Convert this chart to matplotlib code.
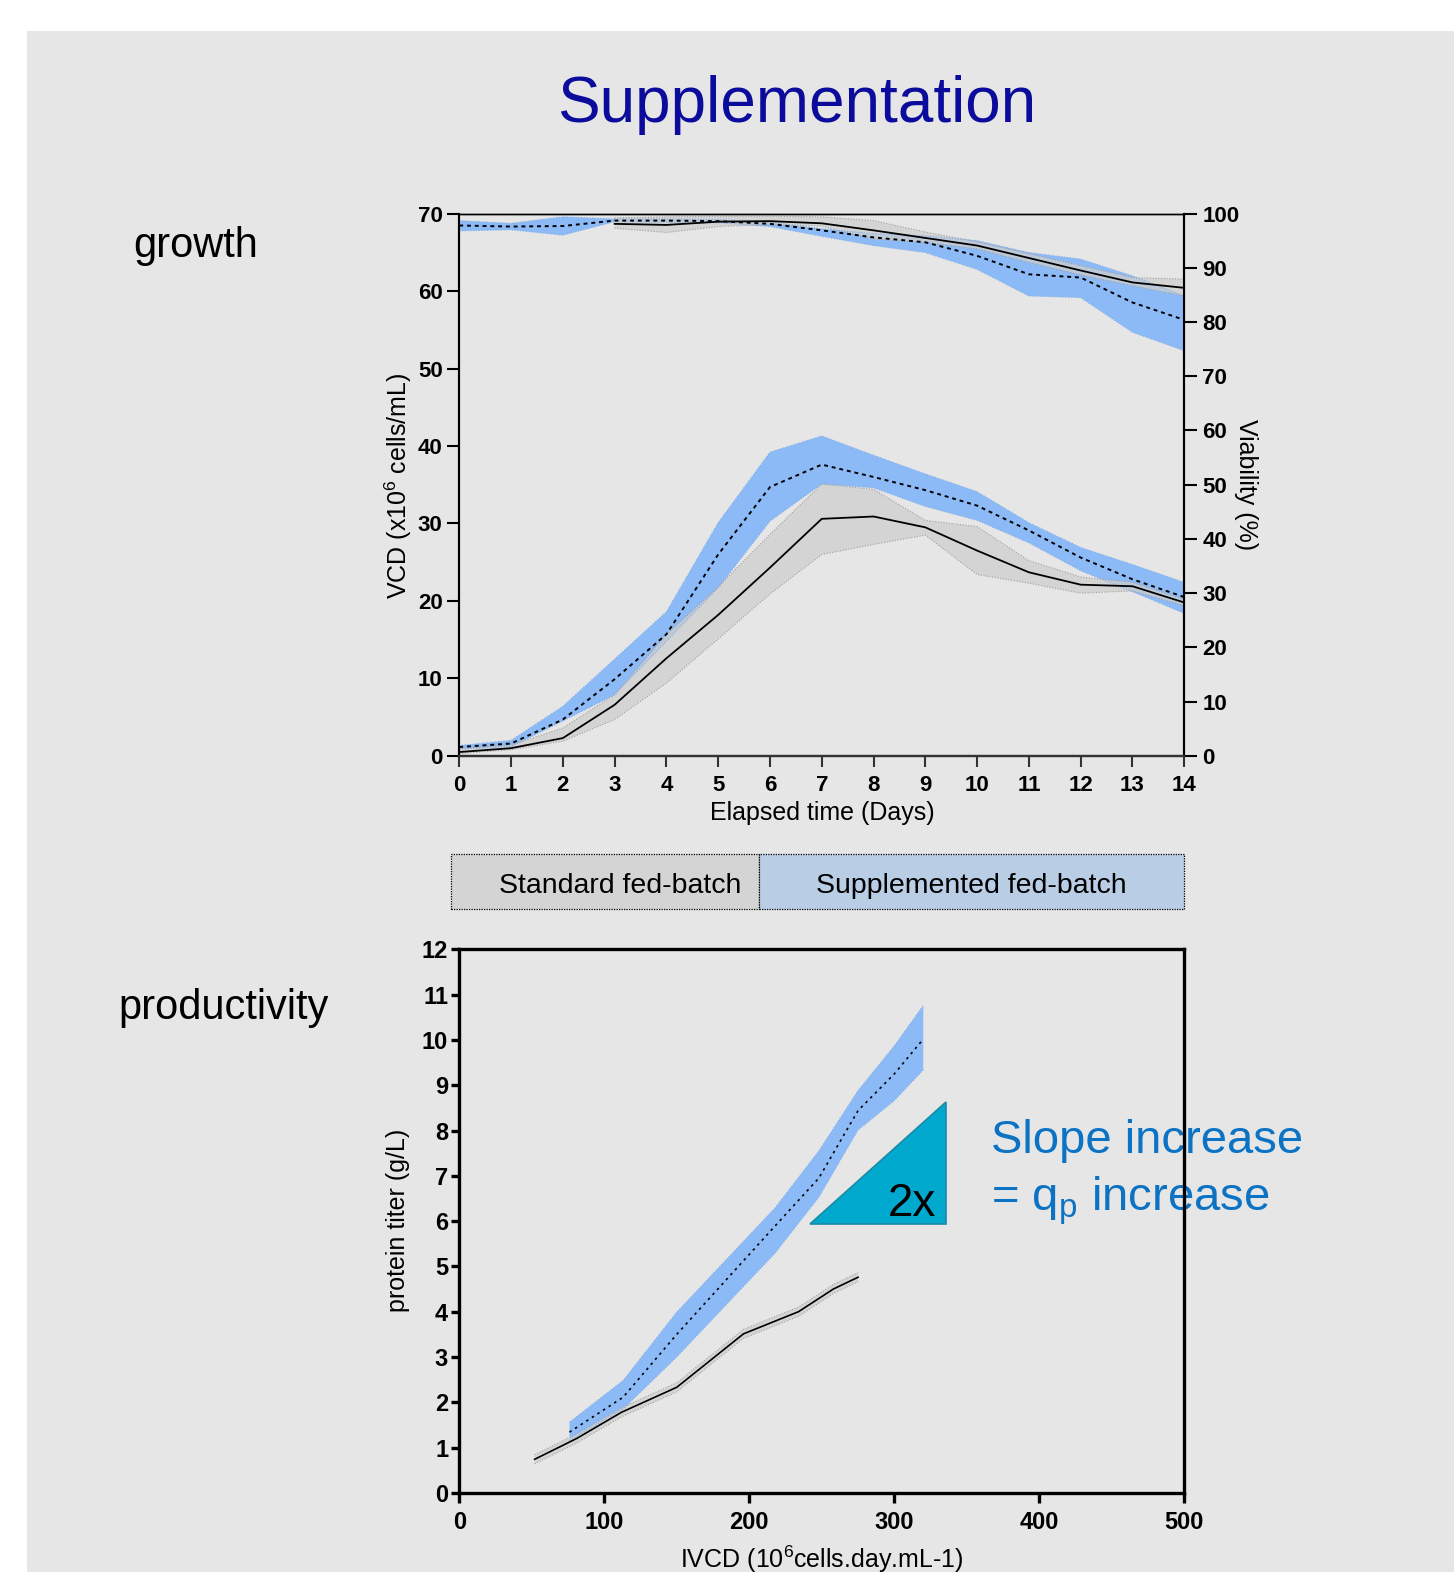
import numpy as np
import matplotlib
matplotlib.use("Agg")
import matplotlib.pyplot as plt
from matplotlib.patches import Rectangle, Polygon

plt.rcParams['font.family'] = ['Liberation Sans', 'DejaVu Sans']
plt.rcParams['mathtext.fontset'] = 'custom'
plt.rcParams['mathtext.rm'] = 'Liberation Sans'
plt.rcParams['mathtext.it'] = 'Liberation Sans'

# growth data (days 0-14)
days = [0, 1, 2, 3, 4, 5, 6, 7, 8, 9, 10, 11, 12, 13, 14]
vcd_std = [0.5, 1.0, 2.3, 6.6, 12.6, 18.2, 24.3, 30.6, 30.9, 29.5, 26.5, 23.7, 22.1, 21.9, 19.8]
vcd_std_lo = [0.3, 0.8, 1.9, 4.7, 9.4, 15.1, 20.9, 26.0, 27.3, 28.5, 23.4, 22.3, 21.0, 21.3, 19.4]
vcd_std_hi = [0.9, 1.4, 3.6, 7.9, 15.7, 21.8, 28.6, 35.1, 34.4, 30.4, 29.6, 25.2, 23.1, 22.4, 20.2]
vcd_sup = [1.15, 1.6, 4.7, 9.9, 15.7, 26.0, 34.7, 37.6, 36.0, 34.3, 32.3, 29.1, 25.6, 22.8, 20.5]
vcd_sup_lo = [0.9, 1.2, 4.5, 7.9, 14.8, 21.7, 30.3, 35.1, 34.6, 32.2, 30.4, 27.5, 23.9, 21.2, 18.4]
vcd_sup_hi = [1.35, 2.0, 6.4, 12.5, 18.6, 30.1, 39.2, 41.3, 38.8, 36.4, 34.1, 30.1, 26.9, 24.7, 22.4]

days_via_std = [3, 4, 5, 6, 7, 8, 9, 10, 11, 12, 13, 14]
via_std = [98.1, 97.9, 98.5, 98.6, 98.2, 96.9, 95.5, 94.1, 91.8, 89.5, 87.3, 86.3]
via_std_lo = [97.3, 96.5, 97.6, 98.0, 97.7, 95.3, 94.7, 93.5, 91.0, 88.7, 86.7, 84.8]
via_std_hi = [99.2, 99.4, 99.5, 99.5, 99.4, 98.7, 96.6, 94.8, 92.6, 90.4, 88.2, 87.9]
via_sup = [97.8, 97.6, 97.7, 98.7, 98.7, 98.6, 98.1, 96.9, 95.6, 94.7, 92.2, 88.8, 88.2, 83.6, 80.4]
via_sup_lo = [96.8, 97.0, 96.0, 98.5, 98.4, 98.3, 97.6, 95.8, 94.1, 92.8, 89.7, 84.8, 84.5, 78.1, 74.7]
via_sup_hi = [98.7, 98.2, 99.4, 99.0, 99.0, 98.9, 98.4, 97.2, 96.3, 95.9, 95.0, 92.8, 91.6, 88.5, 84.8]

# productivity data
ivcd_std = [52, 81, 112, 150, 196, 234, 258, 275]
titer_std = [0.74, 1.2, 1.78, 2.33, 3.51, 4.0, 4.5, 4.76]
titer_std_lo = [0.64, 1.1, 1.68, 2.23, 3.41, 3.9, 4.4, 4.66]
titer_std_hi = [0.84, 1.3, 1.88, 2.43, 3.61, 4.1, 4.6, 4.86]
ivcd_sup = [76, 113, 150, 218, 248, 275, 300, 320]
titer_sup = [1.34, 2.11, 3.5, 5.9, 6.95, 8.44, 9.25, 10.02]
titer_sup_lo = [1.15, 1.85, 3.0, 5.3, 6.53, 8.01, 8.66, 9.34]
titer_sup_hi = [1.56, 2.48, 3.99, 6.3, 7.55, 8.88, 9.87, 10.76]

BLUE = '#8cbaf6'
GRAY = '#cfcfcf'
PANEL = '#e6e6e6'

W, H = 1450.0, 1568.0
def fx(px):
    return px / W
def fy(py):
    return 1 - py / H

fig = plt.figure(figsize=(14.54, 15.72), dpi=100)
fig.patch.set_facecolor('white')
fig.patches.append(Rectangle((fx(27), 0), 1, fy(31), transform=fig.transFigure,
                             facecolor=PANEL, edgecolor='none', zorder=-5))

fig.text(fx(794), fy(122), 'Supplementation', ha='center', va='baseline',
         fontsize=46, color='#0c0c9c')
fig.text(fx(133), fy(256), 'growth', ha='left', va='baseline', fontsize=30)
fig.text(fx(118), fy(1016), 'productivity', ha='left', va='baseline', fontsize=30)


def band(ax, x, lo, hi, color, edge):
    ax.fill_between(x, lo, hi, facecolor=color, edgecolor='none', alpha=1 if color == BLUE else 0.75)
    ax.plot(x, lo, color=edge, lw=0.8, ls=(0, (1, 1.5)))
    ax.plot(x, hi, color=edge, lw=0.8, ls=(0, (1, 1.5)))


# ---- growth chart ----
ax1 = fig.add_axes([fx(458), fy(754), fx(1181) - fx(458), fy(213) - fy(754)])
ax1.set_facecolor('none')
band(ax1, days, vcd_sup_lo, vcd_sup_hi, BLUE, '#7faee8')
band(ax1, days, vcd_std_lo, vcd_std_hi, GRAY, '#a0a0a0')
ax1.plot(days, vcd_std, color='black', lw=1.3)
ax1.plot(days, vcd_sup, color='black', lw=1.4, ls=(0, (2, 2)))
ax1.set_xlim(0, 14)
ax1.set_ylim(0, 70)
ax1.set_xticks(days)
ax1.set_yticks(range(0, 71, 10))

ax2 = ax1.twinx()
band(ax2, days, via_sup_lo, via_sup_hi, BLUE, '#7faee8')
band(ax2, days_via_std, via_std_lo, via_std_hi, GRAY, '#a0a0a0')
ax2.plot(days_via_std, via_std, color='black', lw=1.3)
ax2.plot(days, via_sup, color='black', lw=1.4, ls=(0, (2, 2)))
ax2.set_ylim(0, 100)
ax2.set_yticks(range(0, 101, 10))

for a in (ax1, ax2):
    a.spines['left'].set_linewidth(1.5)
    a.spines['bottom'].set_linewidth(1.6)
    a.spines['bottom'].set_color('#333333')
    a.spines['top'].set_linewidth(1.0)
    a.spines['right'].set_linewidth(1.5)
ax1.tick_params(axis='x', length=8, width=1.5, pad=6, labelsize=16, color='#333333')
ax1.tick_params(axis='y', length=9, width=1.5, pad=3, labelsize=16)
ax2.tick_params(axis='y', length=9, width=1.5, pad=4, labelsize=16)
for lab in ax1.get_xticklabels() + ax1.get_yticklabels() + ax2.get_yticklabels():
    lab.set_fontweight('bold')

fig.text(fx(820), fy(818), 'Elapsed time (Days)', ha='center', va='baseline', fontsize=18)
fig.text(fx(397), fy(484), r'VCD (x10$^{6}$ cells/mL)', rotation=90, ha='center',
         va='center', fontsize=18)
fig.text(fx(1243), fy(483), 'Viability (%)', rotation=270, ha='center', va='center',
         fontsize=18)

# ---- legend boxes ----
fig.patches.append(Rectangle((fx(450), fy(907)), fx(757) - fx(450), fy(852) - fy(907),
                             transform=fig.transFigure, facecolor='#d4d4d4',
                             edgecolor='black', lw=0.9, ls=(0, (1, 1))))
fig.patches.append(Rectangle((fx(757), fy(907)), fx(1181) - fx(757), fy(852) - fy(907),
                             transform=fig.transFigure, facecolor='#b9cde5',
                             edgecolor='black', lw=0.9, ls=(0, (1, 1))))
fig.text(fx(618), fy(891), 'Standard fed-batch', ha='center', va='baseline', fontsize=20.5)
fig.text(fx(969), fy(891), 'Supplemented fed-batch', ha='center', va='baseline', fontsize=20.5)

# ---- productivity chart ----
ax3 = fig.add_axes([fx(458), fy(1489), fx(1181) - fx(458), fy(947) - fy(1489)])
ax3.set_facecolor('none')
band(ax3, ivcd_sup, titer_sup_lo, titer_sup_hi, BLUE, '#7faee8')
band(ax3, ivcd_std, titer_std_lo, titer_std_hi, GRAY, '#a0a0a0')
ax3.plot(ivcd_std, titer_std, color='black', lw=1.2)
ax3.plot(ivcd_sup, titer_sup, color='black', lw=1.2, ls=(0, (1.5, 2.5)))
ax3.set_xlim(0, 500)
ax3.set_ylim(0, 12)
ax3.set_xticks(range(0, 501, 100))
ax3.set_yticks(range(0, 13))
for s in ax3.spines.values():
    s.set_linewidth(2.4)
ax3.tick_params(axis='x', length=7, width=2.4, pad=6, labelsize=17)
ax3.tick_params(axis='y', length=6, width=2.4, pad=2, labelsize=17)
for lab in ax3.get_xticklabels() + ax3.get_yticklabels():
    lab.set_fontweight('bold')

ax3.add_patch(Polygon([(242, 5.94), (335.5, 5.94), (335.5, 8.62)], closed=True,
                      facecolor='#00a9cd', edgecolor='#1b8aa6', lw=1.2, zorder=1))
ax3.text(329, 6.12, '2x', ha='right', va='baseline', fontsize=33, zorder=1)
ax3.text(366.6, 7.50, 'Slope increase', ha='left', va='baseline', fontsize=34,
         color='#0b72c4', clip_on=False, zorder=1)
ax3.text(366.6, 6.23, r'= q$_{\mathrm{p}}$ increase', ha='left', va='baseline',
         fontsize=34, color='#0b72c4', clip_on=False, zorder=1)

fig.text(fx(820), fy(1564), r'IVCD (10$^{6}$cells.day.mL-1)', ha='center', va='baseline',
         fontsize=18)
fig.text(fx(397), fy(1217), 'protein titer (g/L)', rotation=90, ha='center', va='center',
         fontsize=18)

fig.savefig('out.png', dpi=100, facecolor='white')
